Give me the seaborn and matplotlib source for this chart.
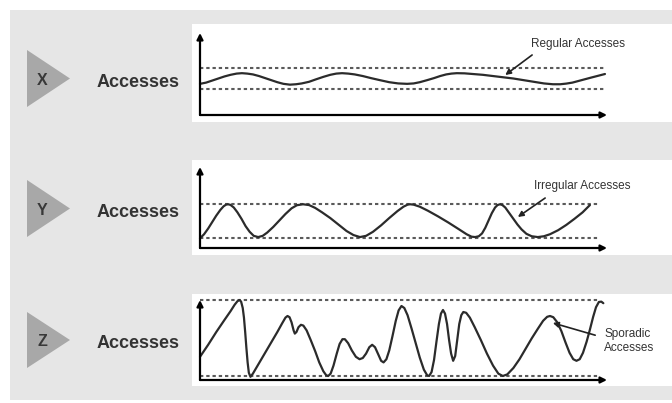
import pandas as pd
import matplotlib.pyplot as plt
from matplotlib.patches import Rectangle, Polygon
import seaborn as sns

# 세 가지 접근 패턴 (시간 0~100, 접근량 0~100 기준으로 그림에서 읽은 값)
row_letters = ['X', 'Y', 'Z']
row_labels = ['Accesses', 'Accesses', 'Accesses']
note_texts = ['Regular Accesses', 'Irregular Accesses', 'Sporadic\nAccesses']

x_regular = [0, 1.5, 3, 4.5, 6, 7.5, 9, 10.3, 11.6, 13, 14.5, 16, 17.5, 19, 20.5, 22.1,
             23.6, 25, 26.8, 28.5, 30.3, 32, 33.5, 34.9, 36.4, 38, 40, 42, 44.2, 46.5,
             48.7, 50.9, 52.5, 54, 55.8, 57.5, 59, 60.5, 61.8, 63.1, 65, 67, 69.5, 72,
             74.5, 77, 79.5, 82, 84.5, 86.7, 88.5, 90, 91.5, 93, 94.5, 96, 97.8, 99.5]
y_regular = [38, 39.5, 42, 44.5, 47, 49, 50.5, 51, 50.5, 49.5, 47.5, 45, 42.5, 40, 38, 37,
             37.5, 38.5, 40.5, 43.5, 46.5, 49, 50.5, 51, 50.5, 49.5, 47.5, 45, 42.5, 40,
             38.5, 38, 38.5, 40, 42.5, 45, 47.5, 49.5, 50.5, 51, 50.8, 50, 49, 47.5,
             46, 44.5, 42.5, 40.5, 38.5, 37.5, 37.5, 38.3, 39.5, 41.5, 43.5, 45.5, 47.8, 50]

x_irregular = [0, 1, 2, 3, 4, 5, 5.8, 6.4, 6.9, 7.5, 8.3, 9.2, 10.2, 11.2, 12.2, 13.2,
               14.3, 15.4, 16.5, 18, 19.5, 21, 22.5, 23.8, 25.3, 26.8, 28.3, 30, 32, 34,
               36, 37.7, 39.3, 40.8, 42.5, 44.5, 46.5, 48.5, 50, 51, 51.6, 52.5, 54, 56,
               58.5, 61, 63.5, 65.5, 66.7, 67.6, 68.5, 69.3, 70.1, 70.9, 71.7, 72.5, 73.1,
               73.7, 74.3, 75, 76, 77, 78, 79, 80.2, 81.5, 83, 84.5, 86, 88, 90, 92, 94, 95.8]
y_irregular = [12, 17, 24, 32, 40, 47, 51.5, 53.5, 54, 53.2, 50, 44, 36, 27, 20, 15,
               13.5, 15, 19, 26, 34, 42, 49, 52.8, 54, 53, 49.5, 44, 37, 29,
               21, 16, 13.5, 15, 20, 28, 37, 45.5, 51, 53.5, 54, 53.5, 51, 46,
               39, 31.5, 23.5, 17, 14, 13.5, 14.5, 18, 25, 34, 43, 50, 53,
               54, 53, 50, 43, 36, 29, 23, 17.5, 14.5, 13.5, 14.5, 17, 22, 28.5, 36, 44, 53]

x_sporadic = [0, 2, 4, 6, 7.5, 8.5, 9.2, 9.7, 10.1, 10.5, 10.8, 11.1, 11.4, 11.7, 12, 12.4,
              13, 14.5, 16, 17.5, 19, 20.2, 21, 21.5, 22, 22.5, 23, 23.3, 23.7, 24.2, 24.8,
              25.4, 26.2, 27.2, 28.3, 29.3, 30.3, 31, 31.5, 32.1, 32.8, 33.6, 34.3, 35,
              35.6, 36.4, 37.3, 38.3, 39.2, 40, 40.8, 41.6, 42.3, 43, 43.8, 44.5, 45.1,
              45.8, 46.5, 47.3, 48.1, 48.8, 49.5, 50.2, 51, 52, 53, 54, 55, 55.8, 56.3,
              56.9, 57.5, 58.1, 58.7, 59.2, 59.7, 60.2, 60.7, 61.2, 61.7, 62.2, 62.7, 63.2,
              63.7, 64.2, 64.7, 65.4, 66.3, 67.5, 69, 70.5, 72, 73.3, 74.4, 75.5, 77, 78.5,
              80, 81.5, 83, 84.3, 85.3, 86, 86.8, 87.8, 88.8, 89.8, 90.8, 91.7, 92.5, 93.3,
              94.1, 95, 95.8, 96.6, 97.3, 98, 98.6, 99.1]
y_sporadic = [29, 44, 60, 75, 86, 94, 98.5, 100, 98, 90, 78, 60, 40, 22, 9, 4,
              8, 21, 34, 47, 60, 71, 78, 80, 78.5, 72, 62, 58, 60, 66, 69,
              68, 62, 50, 36, 22, 11, 6, 5, 8, 18, 33, 45, 51,
              51, 46, 37, 29, 26, 27.5, 33, 41, 44, 41, 32, 24, 22,
              26, 37, 55, 74, 87, 92.5, 90, 81, 64, 46, 28, 13, 6, 5,
              10, 25, 48, 70, 83, 87.5, 83, 70, 50, 33, 24, 30, 50,
              70, 81, 85, 84, 78, 66, 50, 33, 18, 8, 5, 7, 15, 26,
              39, 52, 64, 74, 79, 80, 78.5, 72, 61, 47, 34, 26, 24, 26,
              34, 48, 63, 79, 91, 97.5, 98, 96]

# 점선 기준선 (상한, 하한) 과 점선 끝 위치
band_hi = [57, 54.3, 100]
band_lo = [32, 12.3, 5]
band_end = [99.5, 97.8, 98.3]

# 주석 위치: (글자 위치, 화살표 시작, 화살표 끝)
note_xy = [(92.9, 86.6), (93.9, 76.5), (99.3, 48.8)]
arrow_from = [(81.6, 73.2), (84.8, 61.7), (97.1, 56)]
arrow_to = [(75, 48.8), (78.1, 38.3), (86.7, 71.3)]

series = [(x_regular, y_regular), (x_irregular, y_irregular), (x_sporadic, y_sporadic)]

sns.set_style('white')
plt.rcParams['font.family'] = ['Liberation Sans', 'DejaVu Sans']

W, H = 672, 403
fig = plt.figure(figsize=(W / 100, H / 100), dpi=100)


def fx(px):
    return px / W


def fy(py):
    return 1 - py / H


# 회색 배경
fig.add_artist(Rectangle((fx(10), fy(400)), fx(662), 390 / H, transform=fig.transFigure,
                         facecolor='#e6e6e6', edgecolor='none', zorder=0))

# 패널 위치 (픽셀): 박스 위/아래, 원점 y, 축 꼭대기 y, 삼각형 위/아래
boxes = [(24, 122, 115, 33, 50, 107), (160, 255, 248, 167, 180, 237), (294, 386, 380, 300, 312, 368)]
unit_x = (607 - 200) / 100

for i, (top, bot, org, ytop, t_top, t_bot) in enumerate(boxes):
    ax = fig.add_axes([fx(192), fy(bot), fx(672 - 192), (bot - top) / H])
    ax.set_facecolor('white')
    unit_y = (org - ytop) / 100
    ax.set_xlim(-8 / unit_x, (672 - 200) / unit_x)
    ax.set_ylim((org - bot) / unit_y, (org - top) / unit_y)
    for s in ax.spines.values():
        s.set_visible(False)
    ax.set_xticks([])
    ax.set_yticks([])

    # 점선 기준선
    for lvl in (band_hi[i], band_lo[i]):
        ax.plot([0, band_end[i]], [lvl, lvl], color='#5a5a5a', lw=1.5,
                linestyle=(0, (1.6, 1.4)), zorder=2)

    # 접근 곡선
    df = pd.DataFrame({'t': series[i][0], 'acc': series[i][1]})
    sns.lineplot(data=df, x='t', y='acc', ax=ax, color='#2b2b2b', lw=1.6,
                 sort=False, estimator=None, zorder=3)
    ax.lines[-1].set_solid_joinstyle('round')
    ax.set_xlabel('')
    ax.set_ylabel('')

    # 화살표 축
    ax.annotate('', xy=(0, 100), xytext=(0, 0),
                arrowprops=dict(arrowstyle='-|>', color='black', lw=1.6,
                                mutation_scale=9, shrinkA=0, shrinkB=0), zorder=4)
    ax.annotate('', xy=(100, 0), xytext=(0, 0),
                arrowprops=dict(arrowstyle='-|>', color='black', lw=1.6,
                                mutation_scale=9, shrinkA=0, shrinkB=0), zorder=4)

    # 주석 (좁은 글꼴)
    ha = 'left' if i == 2 else 'center'
    ax.text(note_xy[i][0], note_xy[i][1], note_texts[i], fontsize=8.5, color='#333333',
            family=['Liberation Sans Narrow', 'Liberation Sans', 'DejaVu Sans'],
            ha=ha, va='center', linespacing=1.15)
    ax.annotate('', xy=arrow_to[i], xytext=arrow_from[i],
                arrowprops=dict(arrowstyle='-|>', color='#222222', lw=1.2,
                                mutation_scale=8, shrinkA=0, shrinkB=0))

    # 왼쪽 삼각형과 글자
    tip_y = (t_top + t_bot) / 2
    fig.add_artist(Polygon([(fx(27), fy(t_top)), (fx(27), fy(t_bot)), (fx(70), fy(tip_y))],
                           closed=True, transform=fig.transFigure,
                           facecolor='#a8a8a8', edgecolor='none', zorder=1))
    fig.text(fx(42), fy(tip_y + 2), row_letters[i], fontsize=11.5, fontweight='bold',
             color='#383838', ha='center', va='center')
    fig.text(fx(138), fy(tip_y + 4), row_labels[i], fontsize=13, fontweight='bold',
             color='#333333', ha='center', va='center')

fig.savefig('out.png', dpi=100, facecolor='white')
